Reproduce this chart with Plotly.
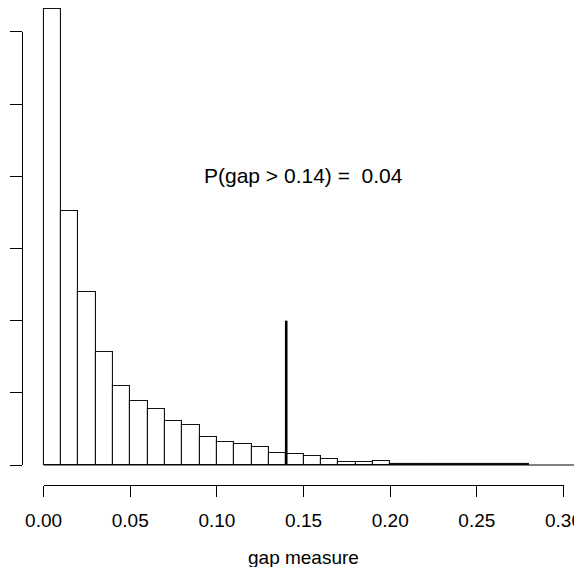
import plotly.graph_objects as go

# ---- data ----
bin_width = 0.01
bin_left = [round(i * 0.01, 2) for i in range(28)]
density = [31.59, 17.58, 11.99, 7.85, 5.49, 4.46, 3.90, 3.03, 2.77, 1.92,
           1.61, 1.45, 1.23, 0.85, 0.76, 0.64, 0.39, 0.21, 0.21, 0.30,
           0.07, 0.07, 0.07, 0.07, 0.07, 0.07, 0.07, 0.07]
observed_gap = 0.14
observed_line_height = 10
p_value_text = "P(gap > 0.14) = \u00a00.04"
x_tick_vals = [0.00, 0.05, 0.10, 0.15, 0.20, 0.25, 0.30]
x_tick_text = ["0.00", "0.05", "0.10", "0.15", "0.20", "0.25", "0.30"]
y_tick_vals = [0, 5, 10, 15, 20, 25, 30]
x_label = "gap measure"

# page body has an 8px margin; figure is placed at (8, 8) in the window
OFF = 8
W, H = 582 - OFF, 567 - OFF
FONT = "Liberation Sans, Arial, Helvetica, sans-serif"

centers = [b + bin_width / 2 for b in bin_left]

fig = go.Figure()

# baseline
fig.add_trace(go.Scatter(x=[0, 0.32], y=[0, 0], mode="lines",
                         line=dict(color="black", width=1),
                         hoverinfo="skip", showlegend=False))

fig.add_trace(go.Bar(x=centers, y=density, width=bin_width,
                     marker=dict(color="white", line=dict(color="#111111", width=1.1)),
                     showlegend=False))

# observed value line
fig.add_trace(go.Scatter(x=[observed_gap, observed_gap], y=[0, observed_line_height],
                         mode="lines", line=dict(color="black", width=2.6),
                         hoverinfo="skip", showlegend=False))

# dummy traces for the display axes
fig.add_trace(go.Scatter(x=[0, 0.3], y=[0, 0], xaxis="x2", yaxis="y", mode="none",
                         hoverinfo="skip", showlegend=False))
fig.add_trace(go.Scatter(x=[0, 0], y=[0, 30], xaxis="x", yaxis="y2", mode="none",
                         hoverinfo="skip", showlegend=False))

# geometry in window pixels, converted to figure pixels
x0_px = 43.6 - OFF
px_per_unit = 1733.0
y0_px = 465.0 - OFF
px_per_density = 72.17 / 5
xaxis_line_y = 484.5 - OFF
yaxis_line_x = 22.0 - OFF

fig.update_layout(
    width=W, height=H,
    margin=dict(l=0, r=0, t=0, b=0, pad=0, autoexpand=False),
    paper_bgcolor="white", plot_bgcolor="rgba(0,0,0,0)",
    bargap=0,
    font=dict(family=FONT, color="black"),
    xaxis=dict(domain=[0, 1],
               range=[-x0_px / px_per_unit, (W - x0_px) / px_per_unit],
               visible=False, fixedrange=True, automargin=False),
    yaxis=dict(domain=[0, 1],
               range=[-(H - y0_px) / px_per_density, y0_px / px_per_density],
               visible=False, fixedrange=True, automargin=False),
    xaxis2=dict(domain=[x0_px / W, (x0_px + 0.30 * px_per_unit) / W],
                range=[0, 0.30], anchor="free", position=(H - xaxis_line_y) / H,
                side="bottom", automargin=False, fixedrange=True,
                showline=True, linecolor="black", linewidth=1,
                ticks="outside", ticklen=11, tickcolor="black", tickwidth=1,
                tickvals=x_tick_vals, ticktext=x_tick_text,
                ticklabelstandoff=8,
                tickfont=dict(size=19, family=FONT, color="black"),
                showgrid=False, zeroline=False),
    yaxis2=dict(domain=[(H - y0_px) / H, (H - (y0_px - 30 * px_per_density)) / H],
                range=[0, 30], anchor="free", position=yaxis_line_x / W,
                side="left", automargin=False, fixedrange=True,
                showline=True, linecolor="black", linewidth=1,
                ticks="outside", ticklen=12, tickcolor="black", tickwidth=1,
                tickvals=y_tick_vals, showticklabels=False,
                showgrid=False, zeroline=False),
    annotations=[
        dict(text=p_value_text, xref="paper", yref="paper",
             x=(303.3 - OFF) / W, y=(H - (176 - OFF)) / H,
             xanchor="center", yanchor="middle",
             showarrow=False, font=dict(size=21, family=FONT, color="black")),
        dict(text=x_label, xref="paper", yref="paper",
             x=(303.3 - OFF) / W, y=(H - (557 - OFF)) / H,
             xanchor="center", yanchor="middle",
             showarrow=False, font=dict(size=19, family=FONT, color="black")),
    ],
)

fig.write_html("out.html")
